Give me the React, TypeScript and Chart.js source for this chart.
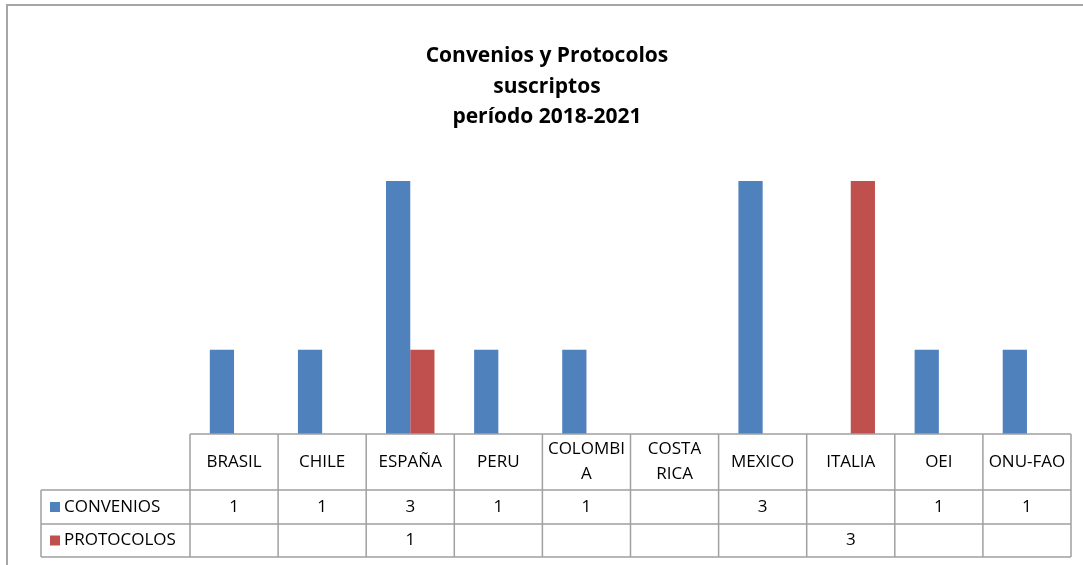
import React, { useEffect, useRef } from "react";
import { Chart, registerables } from "chart.js";

Chart.register(...registerables);

const titleLines = ["Convenios y Protocolos", "suscriptos", "período 2018-2021"];
const categories = ["BRASIL", "CHILE", "ESPAÑA", "PERU", "COLOMBIA", "COSTA RICA", "MEXICO", "ITALIA", "OEI", "ONU-FAO"];
const tickLabels = [["BRASIL"], ["CHILE"], ["ESPAÑA"], ["PERU"], ["COLOMBI", "A"], ["COSTA", "RICA"], ["MEXICO"], ["ITALIA"], ["OEI"], ["ONU-FAO"]];
const convenios: (number | null)[] = [1, 1, 3, 1, 1, null, 3, null, 1, 1];
const protocolos: (number | null)[] = [null, null, 1, null, null, null, null, 3, null, null];
const seriesNames = ["CONVENIOS", "PROTOCOLOS"];
const seriesColors = ["#4F81BD", "#C0504D"];

const FONT = "'Open Sans', Lato, sans-serif";

const framePlugin = {
  id: "frameAndTitle",
  beforeDraw(chart: any) {
    const ctx = chart.ctx;
    ctx.save();
    ctx.fillStyle = "#ffffff";
    ctx.fillRect(0, 0, chart.width, chart.height);
    ctx.strokeStyle = "#a6a6a6";
    ctx.lineWidth = 2;
    ctx.beginPath();
    ctx.moveTo(7, chart.height);
    ctx.lineTo(7, 5);
    ctx.lineTo(chart.width, 5);
    ctx.stroke();
    ctx.fillStyle = "#000000";
    ctx.font = `bold 21px ${FONT}`;
    ctx.textAlign = "center";
    ctx.textBaseline = "middle";
    const ys = [56, 87, 117];
    titleLines.forEach((t, i) => ctx.fillText(t, 547, ys[i]));
    ctx.restore();
  },
};

const tablePlugin = {
  id: "dataTable",
  afterDraw(chart: any) {
    const ctx = chart.ctx;
    const area = chart.chartArea;
    const xs = chart.scales.x;
    const n = categories.length;
    const colW = (area.right - area.left) / n;
    const top = area.bottom;
    const rowH = [56, 34, 33];
    const yHeaderBottom = top + rowH[0];
    const yRow1Bottom = yHeaderBottom + rowH[1];
    const yRow2Bottom = yRow1Bottom + rowH[2];
    const legendLeft = 41;
    ctx.save();
    ctx.strokeStyle = "#a0a0a0";
    ctx.lineWidth = 1.5;
    ctx.beginPath();
    ctx.moveTo(area.left, top); ctx.lineTo(area.right, top);
    ctx.moveTo(legendLeft, yHeaderBottom); ctx.lineTo(area.right, yHeaderBottom);
    ctx.moveTo(legendLeft, yRow1Bottom); ctx.lineTo(area.right, yRow1Bottom);
    ctx.moveTo(legendLeft, yRow2Bottom); ctx.lineTo(area.right, yRow2Bottom);
    ctx.moveTo(legendLeft, yHeaderBottom); ctx.lineTo(legendLeft, yRow2Bottom);
    for (let i = 0; i <= n; i++) {
      const x = area.left + i * colW;
      ctx.moveTo(x, top); ctx.lineTo(x, yRow2Bottom);
    }
    ctx.stroke();

    ctx.fillStyle = "#000000";
    ctx.font = `17px ${FONT}`;
    ctx.textAlign = "center";
    ctx.textBaseline = "middle";
    const headerMid = (top + yHeaderBottom) / 2;
    tickLabels.forEach((lines, i) => {
      const cx = xs.getPixelForValue(i);
      const lh = 25;
      const start = headerMid - ((lines.length - 1) * lh) / 2;
      lines.forEach((l, j) => ctx.fillText(l, cx, start + j * lh));
    });
    const rowMids = [(yHeaderBottom + yRow1Bottom) / 2, (yRow1Bottom + yRow2Bottom) / 2];
    const series = [convenios, protocolos];
    series.forEach((vals, s) => {
      vals.forEach((v, i) => {
        if (v === null) return;
        ctx.fillText(String(v), xs.getPixelForValue(i), rowMids[s]);
      });
    });
    ctx.textAlign = "left";
    seriesNames.forEach((name, s) => {
      const my = rowMids[s];
      ctx.fillStyle = seriesColors[s];
      ctx.fillRect(50, my - 5, 10, 10);
      ctx.fillStyle = "#000000";
      ctx.fillText(name, 64, my);
    });
    ctx.restore();
  },
};

export default function App() {
  const ref = useRef<HTMLCanvasElement>(null);
  useEffect(() => {
    if (!ref.current) return;
    const chart = new Chart(ref.current, {
      type: "bar",
      data: {
        labels: categories,
        datasets: [
          { label: seriesNames[0], data: convenios, backgroundColor: seriesColors[0], categoryPercentage: 0.55, barPercentage: 1.0 },
          { label: seriesNames[1], data: protocolos, backgroundColor: seriesColors[1], categoryPercentage: 0.55, barPercentage: 1.0 },
        ],
      },
      options: {
        responsive: false,
        animation: false,
        maintainAspectRatio: false,
        layout: { padding: { left: 190, right: 12, top: 181, bottom: 131 } },
        plugins: { legend: { display: false }, title: { display: false }, tooltip: { enabled: false } },
        scales: {
          x: { display: false, grid: { display: false } },
          y: { display: false, min: 0, max: 3, grid: { display: false } },
        },
      },
      plugins: [framePlugin, tablePlugin],
    });
    return () => chart.destroy();
  }, []);
  return (
    <div style={{ position: "fixed", left: 0, top: 0, width: 1083, height: 565 }}>
      <canvas ref={ref} width={1083} height={565} style={{ width: 1083, height: 565 }} />
    </div>
  );
}
